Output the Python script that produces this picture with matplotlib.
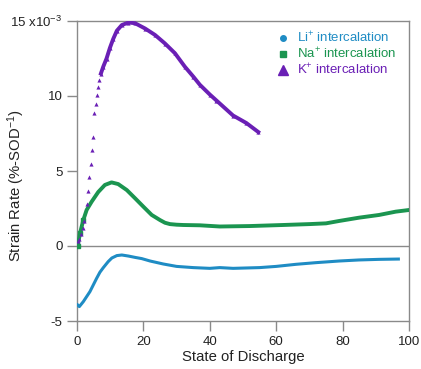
import matplotlib
matplotlib.use("Agg")
import matplotlib.pyplot as plt
import numpy as np

plt.rcParams['font.family'] = ['Liberation Sans', 'DejaVu Sans']
plt.rcParams['mathtext.fontset'] = 'custom'
plt.rcParams['mathtext.rm'] = 'Liberation Sans'
plt.rcParams['mathtext.it'] = 'Liberation Sans:italic'
plt.rcParams['mathtext.bf'] = 'Liberation Sans:bold'
plt.rcParams['mathtext.default'] = 'regular'

# Data (strain rate in units of 1e-3 %/SOD)
li_x = [0.2, 0.7, 1.9, 3.9, 5.9, 6.9, 7.9, 9.4, 10.5, 12, 13.5, 15.5, 17.5, 19.5,
        22, 26, 30, 35, 40, 43, 47, 55, 60, 66, 72, 79, 85, 91, 96.8]
li_y = [-3.93, -4.04, -3.71, -3.04, -2.16, -1.75, -1.45, -1.04, -0.8, -0.64, -0.6,
        -0.67, -0.76, -0.84, -1.0, -1.2, -1.36, -1.44, -1.49, -1.44, -1.49, -1.44,
        -1.36, -1.22, -1.11, -1.0, -0.93, -0.89, -0.87]

na_x = [0.2, 0.9, 1.9, 2.9, 4.4, 6.4, 8.4, 10.4, 12.4, 15, 17.5, 20, 22.5, 25, 26.5,
        28, 30, 32, 37, 43, 52, 62, 70, 75, 79, 85, 91, 96, 100]
na_y = [0.0, 0.85, 1.73, 2.4, 2.95, 3.6, 4.07, 4.24, 4.13, 3.73, 3.18, 2.62, 2.07,
        1.73, 1.55, 1.46, 1.42, 1.4, 1.38, 1.3, 1.33, 1.4, 1.46, 1.51, 1.67, 1.89,
        2.07, 2.29, 2.4]

k_x = [0.4, 0.7, 1.2, 1.7, 2.1, 2.9, 3.4, 3.7, 4.1, 4.4, 4.7, 5.1, 5.6, 6.0, 6.4,
       6.7, 7.2, 7.9, 8.9, 9.9, 10.9, 12.0, 13.5, 15.5, 17.5, 20.5, 23.5, 26.5,
       29.5, 32.5, 35, 37, 40, 42, 47, 51, 54.6]
k_y = [0.33, 0.5, 0.8, 1.2, 1.7, 2.8, 3.67, 4.6, 5.5, 6.4, 7.3, 8.85, 9.5, 10.1,
       10.6, 11.07, 11.5, 11.95, 12.5, 13.2, 13.8, 14.35, 14.73, 14.9, 14.85, 14.5,
       14.07, 13.5, 12.85, 11.95, 11.3, 10.75, 10.1, 9.7, 8.7, 8.2, 7.6]

li_color = '#1f8cc4'
na_color = '#1b9550'
k_color = '#6a1fb5'
grey = '#8a8a8a'

fig = plt.figure(figsize=(4.21, 3.69), dpi=100)
ax = fig.add_axes([77/421, 1-321/369, (409-77)/421, (321-21)/369])

ax.axhline(0, color=grey, lw=1.0, zorder=1)

ax.plot(li_x, li_y, color=li_color, lw=2.2, zorder=3, solid_joinstyle='round')
ax.plot(na_x, na_y, color=na_color, lw=2.8, zorder=3, solid_joinstyle='round')
ax.plot(na_x[:3], na_y[:3], 's', color=na_color, ms=2.5, zorder=3)
kx = np.array(k_x); ky = np.array(k_y)
ax.plot(kx, ky, '^', color=k_color, ms=3, mew=0, zorder=4)
dense = kx >= 7.2
ax.plot(kx[dense], ky[dense], color=k_color, lw=2.8, zorder=4, solid_joinstyle='round')

ax.set_xlim(0, 100)
ax.set_ylim(-5, 15)
ax.set_xticks([0, 20, 40, 60, 80, 100])
ax.set_yticks([-5, 0, 5, 10, 15])
ax.set_yticklabels(['-5', '0', '5', '10', '15 x10$^{-3}$'])
ax.tick_params(direction='out', length=7, width=1, color=grey, labelsize=9.5,
               labelcolor='#222222')
for s in ax.spines.values():
    s.set_color(grey)
    s.set_linewidth(1.0)

ax.set_xlabel('State of Discharge', fontsize=10.7, color='#222222', labelpad=2)
ax.set_ylabel('Strain Rate (%-SOD$^{-1}$)', fontsize=10.7, color='#222222')
ax.yaxis.set_label_coords((27 - 77) / 332, (321 - 186) / 300)

# legend
entries = [('o', li_color, 'Li$^{+}$ intercalation', 4),
           ('s', na_color, 'Na$^{+}$ intercalation', 4),
           ('^', k_color, 'K$^{+}$ intercalation', 7)]
for i, (m, c, t, ms) in enumerate(entries):
    yy = 1 - (38 + 16 * i - 21) / 300
    ax.plot([(283 - 77) / 332], [yy], m, color=c, ms=ms, transform=ax.transAxes,
            clip_on=False)
    ax.text((297 - 77) / 332, yy, t, color=c, fontsize=9.5, va='center', ha='left',
            transform=ax.transAxes)

fig.savefig('out.png', dpi=100)
